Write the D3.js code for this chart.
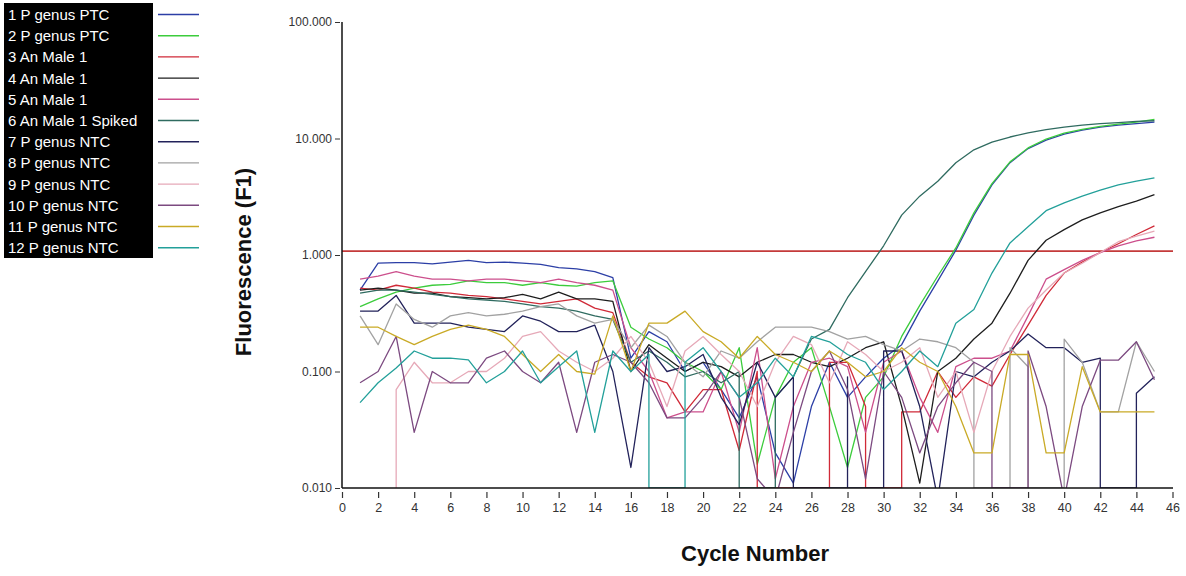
<!DOCTYPE html>
<html>
<head>
<meta charset="utf-8">
<script src="https://cdnjs.cloudflare.com/ajax/libs/d3/7.8.5/d3.min.js"></script>
<style>
  body { margin: 0; background: #fff; }
  svg { display: block; font-family: Arial, "Liberation Sans", sans-serif; }
</style>
</head>
<body>
<svg width="1186" height="576"></svg>
<script>
// cycle numbers 1..45
var cycles = d3.range(1, 46);

var sampleNames = [
  '1 P genus PTC', '2 P genus PTC', '3 An Male 1', '4 An Male 1', '5 An Male 1',
  '6 An Male 1 Spiked', '7 P genus NTC', '8 P genus NTC', '9 P genus NTC',
  '10 P genus NTC', '11 P genus NTC', '12 P genus NTC'
];

var yTicks = [0.01, 0.1, 1, 10, 100];
var xTicks = d3.range(0, 47, 2);
var threshold = [1.08];

// fluorescence per cycle, 0 = no reading (drawn down to the axis)
var fluor1 = [0.50,0.85,0.86,0.86,0.84,0.87,0.90,0.86,0.87,0.85,0.83,0.78,0.76,0.72,0.64,
  0.13,0.22,0.18,0.10,0.12,0.07,0.04,0.09,0.02,0.011,0.05,0.12,0.06,0.09,0.13,
  0.17,0.33,0.60,1.10,2.20,4.00,6.20,8.20,9.70,10.9,11.8,12.5,13.0,13.4,13.8];
var fluor2 = [0.36,0.42,0.48,0.52,0.55,0.56,0.60,0.58,0.58,0.55,0.58,0.55,0.54,0.58,0.60,
  0.24,0.19,0.16,0.12,0.10,0.07,0.16,0.016,0.06,0.12,0.16,0.05,0.015,0.06,0.09,
  0.20,0.37,0.66,1.15,2.30,4.10,6.30,8.30,9.90,11.1,12.0,12.7,13.3,13.8,14.6];
var fluor3 = [0.52,0.50,0.55,0.52,0.48,0.47,0.45,0.44,0.42,0.40,0.38,0.40,0.42,0.35,0.32,
  0.12,0.09,0.08,0.045,0.07,0.07,0.021,0.10,0,0,0,0.12,0.12,0.05,0,
  0.045,0.045,0.10,0.06,0.09,0.075,0.14,0.25,0.45,0.70,0.87,1.05,1.25,1.50,1.78];
var fluor4 = [0.50,0.52,0.50,0.47,0.47,0.44,0.43,0.42,0.43,0.46,0.42,0.48,0.42,0.42,0.40,
  0.10,0.17,0.13,0.10,0.12,0.11,0.09,0.12,0.14,0.14,0.12,0.11,0.13,0.16,0.18,
  0.05,0.011,0.10,0.13,0.19,0.26,0.47,0.90,1.34,1.65,2.00,2.30,2.60,2.90,3.30];
var fluor5 = [0.62,0.66,0.72,0.66,0.62,0.62,0.60,0.62,0.62,0.60,0.58,0.62,0.58,0.55,0.50,
  0.16,0.10,0.04,0.045,0.045,0.10,0.03,0.16,0.012,0.05,0.12,0.13,0.11,0.03,0.12,
  0.15,0.06,0.03,0.11,0.13,0.13,0.15,0.30,0.62,0.75,0.90,1.05,1.20,1.32,1.42];
var fluor6 = [0.47,0.50,0.50,0.48,0.46,0.44,0.42,0.41,0.40,0.38,0.36,0.35,0.33,0.30,0.28,
  0.12,0.15,0.12,0.09,0.10,0.08,0.10,0,0.06,0.09,0.19,0.23,0.43,0.72,1.20,
  2.20,3.20,4.30,6.20,8.00,9.30,10.3,11.2,11.9,12.5,13.0,13.4,13.7,14.0,14.2];
var fluor7 = [0.33,0.33,0.45,0.26,0.26,0.26,0.24,0.23,0.22,0.30,0.27,0.22,0.22,0.25,0.10,
  0.015,0.16,0.10,0.11,0.14,0.06,0.035,0.12,0.06,0.09,0,0,0.09,0,0.15,
  0.15,0.05,0.008,0.10,0.09,0.12,0.15,0.21,0.16,0.16,0.12,0.13,0,0.065,0.09];
var fluor8 = [0.30,0.17,0.38,0.28,0.24,0.30,0.32,0.30,0.31,0.33,0.36,0.38,0.30,0.26,0.28,
  0.16,0.25,0.20,0.12,0.09,0.15,0.13,0.18,0.24,0.24,0.24,0.22,0.19,0.20,0.17,
  0.15,0.19,0.18,0.16,0.12,0,0.16,0.11,0,0.19,0.12,0.045,0.045,0.18,0.10];
var fluor9 = [0,0,0.07,0.12,0.08,0.08,0.10,0.10,0.13,0.20,0.22,0.15,0.12,0.10,0.13,
  0.20,0.12,0.05,0.15,0.20,0.14,0.10,0.05,0.12,0.20,0.17,0.08,0.18,0.14,0.10,
  0.12,0.16,0.06,0.10,0.03,0.10,0.20,0.35,0.50,0.70,0.85,1.05,1.30,1.45,1.60];
var fluor10 = [0.08,0.10,0.20,0.03,0.10,0.08,0.08,0.13,0.15,0.10,0.08,0.12,0.03,0.12,0.14,
  0.12,0.08,0.04,0.04,0.06,0.10,0.06,0.012,0.008,0.03,0.10,0.15,0.07,0.012,0.10,
  0.06,0.02,0.05,0.08,0.12,0.10,0,0.15,0.05,0.008,0.05,0.125,0.125,0.18,0.085];
var fluor11 = [0.24,0.24,0.20,0.17,0.20,0.23,0.25,0.23,0.20,0.14,0.10,0.14,0.10,0.095,0.30,
  0.10,0.26,0.26,0.33,0.22,0.18,0.13,0.20,0.14,0.12,0.10,0.15,0.12,0.09,0.10,
  0.16,0.12,0.10,0.05,0.02,0.02,0.14,0.14,0.02,0.02,0.11,0.045,0.045,0.045,0.045];
var fluor12 = [0.054,0.08,0.107,0.15,0.13,0.13,0.126,0.08,0.10,0.15,0.08,0.11,0.15,0.03,0.15,
  0.10,0.14,0,0.12,0.16,0.10,0.06,0.08,0.13,0.09,0.20,0.18,0.14,0.12,0.07,
  0.10,0.15,0.11,0.26,0.34,0.70,1.27,1.75,2.40,2.80,3.20,3.60,4.00,4.30,4.60];

var allSeries = [fluor1, fluor2, fluor3, fluor4, fluor5, fluor6,
  fluor7, fluor8, fluor9, fluor10, fluor11, fluor12];

var colors = ['#2c3fa6', '#3ccc3c', '#d02a38', '#1e1e1e', '#cc4f8c', '#2f6b60',
  '#22225a', '#a2a2a2', '#e6a9b8', '#7c4a80', '#c9aa26', '#23a09a'];

var svg = d3.select('svg');
var plotLeft = 342, plotRight = 1173, plotTop = 22, plotBottom = 488;

var x = d3.scaleLinear().domain([0, 46]).range([plotLeft, 1172.5]);
var y = d3.scaleLog().domain([0.01, 100]).range([plotBottom, plotTop]);

// legend
svg.append('rect')
  .attr('x', 4).attr('y', 3)
  .attr('width', 149).attr('height', 255)
  .attr('fill', '#000');

var legend = svg.append('g').attr('class', 'legend')
  .selectAll('g')
  .data(sampleNames)
  .enter()
  .append('g')
  .attr('transform', function(d, i) {
    return 'translate(0,' + (14.5 + i * 21.2) + ')';
  });

legend.append('text')
  .attr('x', 8).attr('y', 5.5)
  .attr('fill', '#fff')
  .attr('font-size', 15)
  .text(function(d) { return d; });

legend.append('line')
  .attr('x1', 158).attr('x2', 199)
  .attr('stroke', function(d, i) { return colors[i]; })
  .attr('stroke-width', 1.4);

// clip for the plot area
svg.append('defs').append('clipPath').attr('id', 'plot')
  .append('rect')
  .attr('x', plotLeft).attr('y', plotTop)
  .attr('width', plotRight - plotLeft).attr('height', plotBottom - plotTop);

// threshold line
svg.append('g')
  .selectAll('line')
  .data(threshold)
  .enter()
  .append('line')
  .attr('x1', plotLeft).attr('x2', plotRight)
  .attr('y1', function(d) { return y(d); })
  .attr('y2', function(d) { return y(d); })
  .attr('stroke', '#c43a3a')
  .attr('stroke-width', 1.6);

// readings with no value drop straight to the axis
function toPoints(vals) {
  var pts = [];
  var prevValid = false;
  vals.forEach(function(v, i) {
    if (v > 0) {
      if (i > 0 && !prevValid) pts.push([x(cycles[i]), plotBottom]);
      pts.push([x(cycles[i]), y(v)]);
      prevValid = true;
    } else {
      if (prevValid) pts.push([x(cycles[i - 1]), plotBottom]);
      prevValid = false;
    }
  });
  return pts;
}

var line = d3.line();

svg.append('g')
  .attr('class', 'curves')
  .attr('clip-path', 'url(#plot)')
  .selectAll('path')
  .data(allSeries)
  .enter()
  .append('path')
  .attr('d', function(d) { return line(toPoints(d)); })
  .attr('fill', 'none')
  .attr('stroke', function(d, i) { return colors[i]; })
  .attr('stroke-width', 1.3)
  .attr('stroke-linejoin', 'round');

// y axis
var yAxis = d3.axisLeft(y)
  .tickValues(yTicks)
  .tickFormat(d3.format('.3f'))
  .tickSize(5)
  .tickPadding(3);

svg.append('g')
  .attr('transform', 'translate(' + (plotLeft - 2) + ',0)')
  .call(yAxis)
  .call(function(g) {
    g.select('.domain').remove();
    g.selectAll('text').attr('font-size', 12).attr('fill', '#333').attr('font-family', 'Arial, sans-serif');
    g.selectAll('.tick line').attr('stroke', '#333');
  });

svg.append('line')
  .attr('x1', plotLeft).attr('x2', plotLeft)
  .attr('y1', plotTop).attr('y2', plotBottom)
  .attr('stroke', '#111').attr('stroke-width', 1.5);

// x axis
var xAxis = d3.axisBottom(x)
  .tickValues(xTicks)
  .tickSize(6)
  .tickPadding(5);

svg.append('g')
  .attr('transform', 'translate(0,' + (plotBottom + 4) + ')')
  .call(xAxis)
  .call(function(g) {
    g.select('.domain').remove();
    g.selectAll('text').attr('font-size', 12.5).attr('fill', '#333').attr('font-family', 'Arial, sans-serif');
    g.selectAll('.tick line').attr('stroke', '#333').attr('stroke-width', 1.2);
  });

svg.append('line')
  .attr('x1', plotLeft).attr('x2', plotRight)
  .attr('y1', plotBottom).attr('y2', plotBottom)
  .attr('stroke', '#111').attr('stroke-width', 1.5);

// axis titles
svg.append('text')
  .attr('x', 755).attr('y', 561)
  .attr('text-anchor', 'middle')
  .attr('font-size', 22)
  .attr('font-weight', 'bold')
  .attr('fill', '#111')
  .text('Cycle Number');

svg.append('text')
  .attr('transform', 'translate(251,262) rotate(-90)')
  .attr('text-anchor', 'middle')
  .attr('font-size', 22)
  .attr('font-weight', 'bold')
  .attr('fill', '#111')
  .text('Fluorescence (F1)');
</script>
</body>
</html>
